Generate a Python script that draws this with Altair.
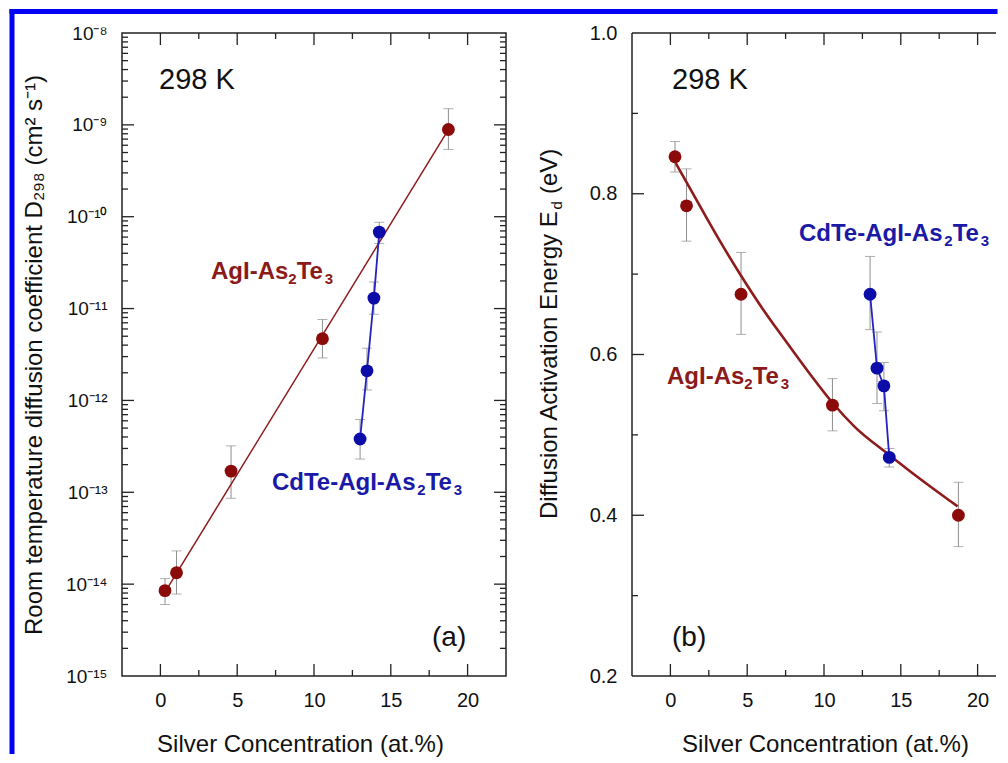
import altair as alt
import pandas as pd

# ---------------- data ----------------
red_x = [0.3, 1.05, 4.6, 10.55, 18.75]
red_D = [8.5e-15, 1.33e-14, 1.7e-13, 4.7e-12, 8.9e-10]
red_D_lo = [6.0e-15, 7.8e-15, 8.6e-14, 2.9e-12, 5.4e-10]
red_D_hi = [1.15e-14, 2.3e-14, 3.2e-13, 7.6e-12, 1.5e-9]
red_E = [0.846, 0.785, 0.675, 0.537, 0.400]
red_E_lo = [0.827, 0.741, 0.625, 0.505, 0.361]
red_E_hi = [0.865, 0.831, 0.727, 0.570, 0.441]

blue_x = [13.0, 13.45, 13.9, 14.25]
blue_D = [3.8e-13, 2.1e-12, 1.3e-11, 6.8e-11]
blue_D_lo = [2.3e-13, 1.3e-12, 8.7e-12, 5.1e-11]
blue_D_hi = [6.2e-13, 3.7e-12, 1.95e-11, 8.7e-11]
blue_E = [0.675, 0.583, 0.561, 0.472]
blue_E_lo = [0.631, 0.539, 0.530, 0.460]
blue_E_hi = [0.722, 0.628, 0.590, 0.483]

fit_a_x = [0.3, 18.7]
fit_a_D = [8.2e-15, 8.6e-10]
fit_b_x = [0.35, 2.0, 3.2, 4.6, 6.0, 7.5, 9.0, 10.55, 12.0, 14.25, 16.2, 18.7]
fit_b_E = [0.838, 0.782, 0.742, 0.698, 0.657, 0.617, 0.578, 0.540, 0.510, 0.475, 0.446, 0.411]

x_major = [0, 5, 10, 15, 20]
x_minor = [2.5, 7.5, 12.5, 17.5]
d_ticks = [1e-15, 1e-14, 1e-13, 1e-12, 1e-11, 1e-10, 1e-9, 1e-8]
d_tick_labels = ["10⁻¹⁵", "10⁻¹⁴", "10⁻¹³", "10⁻¹²", "10⁻¹¹", "10⁻¹⁰", "10⁻⁹", "10⁻⁸"]
d_minor = [k * 10.0 ** e for e in range(-15, -8) for k in range(2, 10)]
e_ticks = [0.2, 0.4, 0.6, 0.8, 1.0]
e_minor = [0.3, 0.5, 0.7, 0.9]

# series names, split into normal / subscript pieces
series_red_parts = ["AgI-As", "2", "Te", "3"]
series_blue_parts = ["CdTe-AgI-As", "2", "Te", "3"]
temp_label = "298 K"
panel_labels = ["(a)", "(b)"]
x_title = "Silver Concentration (at.%)"
ya_title = "Room temperature diffusion coefficient D₂₉₈ (cm² s⁻¹)"
yb_title_parts = ["Diffusion Activation Energy E", "d", "(eV)"]

# ---------------- styling ----------------
W, H = 384, 643
WB = 364                      # panel (b) is cut by the page edge, as in the source
PX_PER_UNIT = W / 25.0
FONT = "Liberation Sans"
FRAME = "#222222"
GRAY = "#8f8f8f"
RED = "#8b0a0a"
RED_LINE = "#8e1c1c"
RED_TXT = "#8b1a1a"
BLUE = "#0c0ca8"
BLUE_LINE = "#2323c0"
BLUE_TXT = "#1a1aa6"
BORDER = "#0000f5"

one = pd.DataFrame({"k": [0]})


def make_xaxis(title_x):
    return alt.Axis(values=x_major, title=x_title, ticks=False, tickSize=0, domain=False,
                    grid=False, labelFontSize=20, labelPadding=14, labelFont=FONT,
                    labelColor="#111", labelFlush=False, titleFont=FONT, titleFontSize=24,
                    titleFontWeight="normal", titleColor="#111", titleX=title_x, titleY=68,
                    titleBaseline="middle", titleAlign="center")


lab_expr = "[" + ",".join("'" + s + "'" for s in d_tick_labels) + "][round(log(datum.value)/LN10)+15]"

yscale_a = alt.Scale(type="log", domain=[1e-15, 1e-8], nice=False)
yaxis_a = alt.Axis(values=d_ticks, labelExpr=lab_expr, title=ya_title, ticks=False, tickSize=0,
                   domain=False, grid=False, labelFontSize=19, labelPadding=15, labelFont=FONT,
                   labelColor="#111", labelOverlap=False, titleFont=FONT, titleFontSize=24,
                   titleFontWeight="normal", titleColor="#111", titleX=-88, titleY=H / 2,
                   titleAngle=270, titleAlign="center", titleBaseline="middle")

yscale_b = alt.Scale(domain=[0.2, 1.0], nice=False, zero=False)
yaxis_b = alt.Axis(values=e_ticks, format=".1f", title=None, ticks=False, tickSize=0,
                   domain=False, grid=False, labelFontSize=20, labelPadding=15, labelFont=FONT,
                   labelColor="#111", labelOverlap=False)


def text_layer(txt, px, py, size, weight="normal", color="#111", baseline="alphabetic",
               angle=0):
    kw = dict(font=FONT, fontSize=size, fontWeight=weight, color=color, align="left",
              baseline=baseline)
    if angle:
        kw["angle"] = angle
    return alt.Chart(pd.DataFrame({"t": [txt]})).mark_text(**kw).encode(
        text="t:N", x=alt.value(px), y=alt.value(py))


def chem_label(parts, x0, y0, color, big=24, small=15):
    # widths of Arial/Liberation Sans Bold glyphs (em units) to place sub-scripts
    em = {"A": .722, "g": .611, "I": .278, "-": .333, "s": .556, "T": .611, "e": .556,
          "C": .722, "d": .611, "2": .556, "3": .556}
    out, x = [], x0
    for i, p in enumerate(parts):
        sub = i % 2 == 1
        size = small if sub else big
        out.append(text_layer(p, x, y0 + (5 if sub else 0), size, "bold", color))
        x += sum(em[c] for c in p) * size
    return out


def build_panel(width, xdomain, xaxis, yscale, yaxis, y_major, y_minor, right_ticks,
                red_y, red_lo, red_hi, blue_y, blue_lo, blue_hi, fit_x, fit_y, fit_width,
                extra):
    xscale = alt.Scale(domain=xdomain, nice=False, zero=False)

    def X(f):
        return alt.X(f, type="quantitative", scale=xscale, axis=xaxis)

    def Y(f):
        return alt.Y(f, type="quantitative", scale=yscale, axis=yaxis)

    layers = []
    # inward ticks
    for vals, ln in ((x_major, 12), (x_minor, 6)):
        df = pd.DataFrame({"v": vals})
        layers.append(alt.Chart(df).mark_rule(color=FRAME, strokeWidth=1.3).encode(
            x=X("v"), y=alt.value(H), y2=alt.value(H - ln)))
        layers.append(alt.Chart(df).mark_rule(color=FRAME, strokeWidth=1.3).encode(
            x=X("v"), y=alt.value(0), y2=alt.value(ln)))
    for vals, ln in ((y_major, 12), (y_minor, 6)):
        df = pd.DataFrame({"v": vals})
        layers.append(alt.Chart(df).mark_rule(color=FRAME, strokeWidth=1.3).encode(
            y=Y("v"), x=alt.value(0), x2=alt.value(ln)))
        if right_ticks:
            layers.append(alt.Chart(df).mark_rule(color=FRAME, strokeWidth=1.3).encode(
                y=Y("v"), x=alt.value(width), x2=alt.value(width - ln)))

    err = pd.DataFrame({"x": red_x + blue_x, "lo": red_lo + blue_lo, "hi": red_hi + blue_hi})
    layers.append(alt.Chart(err).mark_rule(color=GRAY, strokeWidth=1).encode(
        x=X("x"), y=Y("lo"), y2=alt.Y2("hi")))
    layers.append(alt.Chart(err).mark_tick(color=GRAY, orient="horizontal", size=10,
                                           thickness=1).encode(x=X("x"), y=Y("lo")))
    layers.append(alt.Chart(err).mark_tick(color=GRAY, orient="horizontal", size=10,
                                           thickness=1).encode(x=X("x"), y=Y("hi")))

    fit = pd.DataFrame({"x": fit_x, "y": fit_y})
    layers.append(alt.Chart(fit).mark_line(color=RED_LINE, strokeWidth=fit_width,
                                           interpolate="monotone").encode(x=X("x"), y=Y("y")))
    bl = pd.DataFrame({"x": blue_x, "y": blue_y})
    layers.append(alt.Chart(bl).mark_line(color=BLUE_LINE, strokeWidth=1.8).encode(
        x=X("x"), y=Y("y")))

    pts = pd.DataFrame({"x": red_x + blue_x, "y": red_y + blue_y,
                        "c": [RED] * len(red_x) + [BLUE] * len(blue_x)})
    layers.append(alt.Chart(pts).mark_circle(size=165, opacity=1).encode(
        x=X("x"), y=Y("y"), color=alt.Color("c:N", scale=None)))

    layers.extend(extra)
    return alt.layer(*layers).properties(width=width, height=H)


# blue outer frame (filled strips, in panel a coordinates), cut by the page like the source
border = [
    alt.Chart(one).mark_rect(color=BORDER, strokeWidth=0).encode(
        x=alt.value(-112.5), x2=alt.value(875.5), y=alt.value(-24), y2=alt.value(-19)),
    alt.Chart(one).mark_rect(color=BORDER, strokeWidth=0).encode(
        x=alt.value(-112.5), x2=alt.value(-107.5), y=alt.value(-24), y2=alt.value(721)),
]

# frame of panel b without its right side (beyond the page edge in the source)
frame_b = [
    alt.Chart(one).mark_rule(color=FRAME, strokeWidth=1.5).encode(
        x=alt.value(0), y=alt.value(0), y2=alt.value(H)),
    alt.Chart(one).mark_rule(color=FRAME, strokeWidth=1.5).encode(
        x=alt.value(0), x2=alt.value(WB), y=alt.value(0)),
    alt.Chart(one).mark_rule(color=FRAME, strokeWidth=1.5).encode(
        x=alt.value(0), x2=alt.value(WB), y=alt.value(H)),
]

texts_a = [
    text_layer(temp_label, 37, 56, 29),
    text_layer(panel_labels[0], 310, 605, 28, baseline="middle"),
] + chem_label(series_red_parts, 89, 246, RED_TXT) + chem_label(series_blue_parts, 150, 457, BLUE_TXT)

texts_b = [
    text_layer(temp_label, 40, 56, 29),
    text_layer(panel_labels[1], 40, 605, 28, baseline="middle"),
] + chem_label(series_blue_parts, 167, 208, BLUE_TXT) + chem_label(series_red_parts, 35, 351, RED_TXT)

title_b = [
    text_layer(yb_title_parts[0], -82, 486, 24, baseline="middle", angle=270),
    text_layer(yb_title_parts[1], -75, 176.5, 15, baseline="middle", angle=270),
    text_layer(yb_title_parts[2], -82, 161, 24, baseline="middle", angle=270),
]

panel_a = build_panel(W, [-2.5, 22.5], make_xaxis(178), yscale_a, yaxis_a, d_ticks[1:-1],
                      d_minor, True, red_D, red_D_lo, red_D_hi, blue_D, blue_D_lo, blue_D_hi,
                      fit_a_x, fit_a_D, 1.5, texts_a + border)
panel_b = build_panel(WB, [-2.5, -2.5 + WB / PX_PER_UNIT], make_xaxis(193), yscale_b, yaxis_b,
                      e_ticks[1:-1], e_minor, False, red_E, red_E_lo, red_E_hi,
                      blue_E, blue_E_lo, blue_E_hi, fit_b_x, fit_b_E, 2.6,
                      texts_b + title_b + frame_b).properties(view=alt.ViewBackground(stroke=None))

chart = alt.hconcat(panel_a, panel_b, spacing=126, bounds="flush").properties(
    padding=0, background="white"
).configure_view(stroke=FRAME, strokeWidth=1.5)

chart.save("out.html", embed_options={"renderer": "svg", "actions": False})
